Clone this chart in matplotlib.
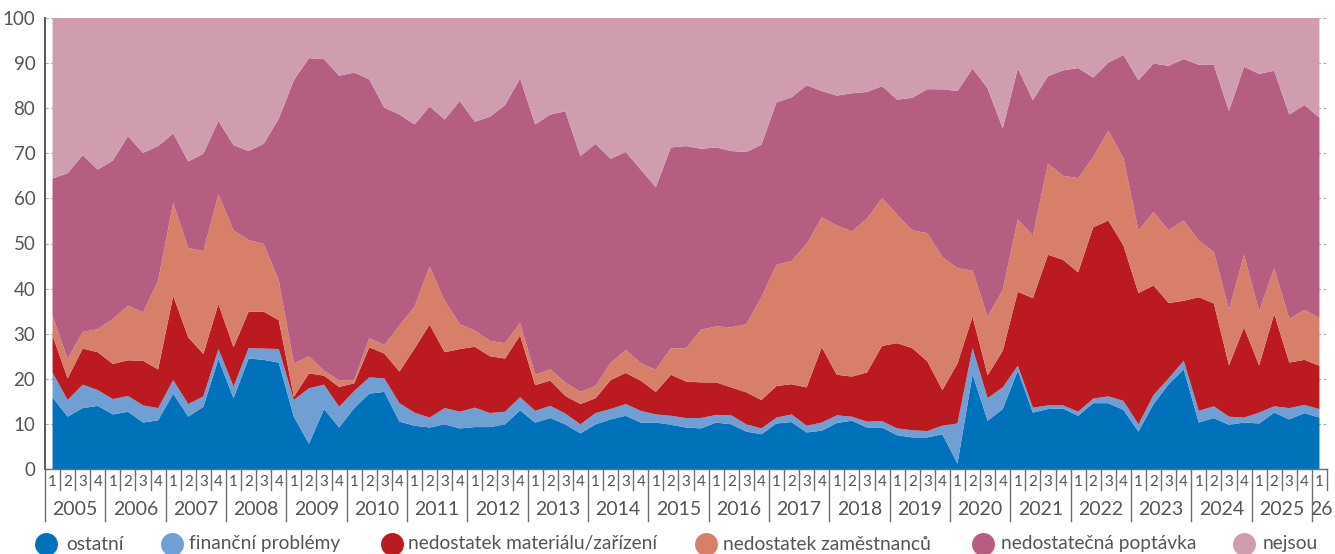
import numpy as np
import matplotlib
matplotlib.use("Agg")
import matplotlib.pyplot as plt
from matplotlib.lines import Line2D
import matplotlib.transforms as mtransforms

plt.rcParams['font.family'] = ['Lato', 'DejaVu Sans']

# quarterly data 2005Q1 .. 2026Q1 (shares in %)
years = list(range(2005, 2026))
year_labels = [str(y) for y in years] + ["26"]
quarters = [1, 2, 3, 4] * 21 + [1]

ostatni = [15.9, 11.6, 13.5, 14.0, 12.1, 12.7, 10.3, 10.8, 16.7, 11.6, 13.8, 24.4, 15.7, 24.5, 24.2, 23.6,
           11.6, 5.6, 13.3, 9.2, 13.5, 16.7, 17.1, 10.5, 9.6, 9.2, 9.9, 9.0, 9.3, 9.3, 9.9, 13.0,
           10.3, 11.3, 9.9, 7.9, 9.9, 11.0, 11.8, 10.3, 10.3, 9.8, 9.2, 9.0, 10.3, 9.9, 8.3, 7.7,
           10.1, 10.4, 8.1, 8.5, 10.2, 10.7, 9.2, 9.2, 7.5, 7.0, 7.0, 7.7, 1.2, 21.0, 10.7, 13.3,
           21.8, 12.5, 13.3, 13.4, 11.8, 14.6, 14.6, 13.1, 8.3, 14.4, 18.8, 22.1, 10.3, 11.3, 9.8, 10.3,
           10.1, 12.5, 11.0, 12.4, 11.4]
financni = [5.5, 3.7, 5.2, 3.5, 3.4, 3.5, 3.8, 2.7, 3.0, 2.8, 2.3, 2.2, 2.6, 2.3, 2.5, 3.0,
            3.7, 12.3, 5.4, 4.6, 3.8, 3.6, 3.0, 4.1, 2.9, 2.2, 3.6, 3.7, 4.3, 3.1, 2.8, 2.9,
            2.6, 2.7, 2.4, 2.0, 2.5, 2.3, 2.6, 2.6, 1.8, 2.0, 2.1, 2.3, 1.7, 2.0, 1.6, 1.3,
            1.3, 1.7, 1.5, 1.8, 1.7, 0.9, 1.3, 1.4, 1.5, 1.6, 1.4, 1.9, 8.9, 5.8, 5.0, 4.8,
            1.1, 1.1, 0.8, 0.7, 0.9, 1.0, 1.5, 2.0, 1.6, 2.0, 1.3, 1.9, 2.6, 2.6, 1.8, 1.1,
            2.4, 1.4, 2.5, 1.8, 1.9]
material = [8.2, 4.8, 8.0, 8.4, 7.8, 7.9, 9.9, 8.6, 18.7, 14.8, 9.4, 10.0, 8.7, 8.1, 8.2, 6.4,
            0.7, 3.3, 2.0, 4.4, 1.7, 6.7, 5.5, 7.0, 14.2, 20.6, 12.4, 13.9, 13.5, 12.6, 11.8, 13.7,
            5.7, 5.6, 3.9, 4.5, 3.3, 6.4, 6.9, 6.7, 5.0, 9.1, 8.1, 7.9, 7.2, 6.2, 7.1, 6.3,
            7.0, 6.7, 8.5, 16.7, 9.0, 8.9, 10.9, 16.7, 18.9, 18.2, 15.5, 7.9, 13.3, 7.0, 5.1, 8.1,
            16.4, 24.3, 33.4, 32.3, 30.9, 38.0, 39.0, 34.5, 29.1, 24.3, 16.7, 13.3, 25.2, 22.8, 11.4, 20.0,
            10.5, 20.5, 10.1, 10.0, 9.6]
zamestnanci = [4.4, 4.3, 3.7, 5.1, 10.0, 12.1, 10.7, 19.7, 20.6, 19.8, 22.8, 24.3, 25.9, 15.9, 15.0, 8.8,
               7.4, 3.8, 1.1, 1.5, 0.7, 2.0, 1.9, 10.2, 9.3, 12.9, 11.4, 5.5, 3.6, 3.4, 3.4, 2.8,
               2.3, 2.5, 3.0, 2.7, 2.7, 3.8, 5.1, 3.9, 4.9, 5.9, 7.3, 11.7, 12.4, 13.3, 15.1, 22.8,
               26.9, 27.3, 31.8, 28.8, 33.1, 32.2, 34.1, 32.8, 28.5, 26.1, 28.4, 29.5, 21.1, 10.2, 13.0, 13.5,
               16.0, 13.9, 20.2, 18.6, 20.9, 15.6, 19.9, 19.4, 13.9, 16.3, 16.1, 17.8, 12.6, 11.4, 12.3, 16.1,
               12.0, 10.1, 9.7, 11.1, 10.6]
poptavka = [30.4, 41.2, 39.2, 35.4, 35.1, 37.6, 35.4, 29.8, 15.4, 19.2, 21.6, 16.3, 18.9, 19.7, 22.2, 35.9,
            62.8, 66.1, 69.1, 67.5, 68.2, 57.4, 52.6, 46.8, 40.4, 35.5, 40.2, 49.5, 46.3, 49.7, 52.8, 54.2,
            55.5, 56.5, 60.1, 52.3, 53.7, 45.3, 43.9, 42.9, 40.5, 44.5, 44.9, 40.1, 39.7, 39.1, 38.2, 33.8,
            36.0, 36.3, 35.2, 28.0, 28.8, 30.6, 28.1, 24.8, 25.5, 29.4, 31.9, 37.2, 39.3, 44.8, 50.6, 35.8,
            33.5, 30.0, 19.4, 23.4, 24.4, 17.6, 15.1, 22.8, 33.3, 32.9, 36.5, 35.8, 38.9, 41.5, 44.1, 41.7,
            52.6, 43.8, 45.3, 45.4, 44.4]
nejsou = [35.6, 34.4, 30.4, 33.6, 31.6, 26.2, 29.9, 28.4, 25.6, 31.8, 30.1, 22.8, 28.2, 29.5, 27.9, 22.3,
          13.8, 8.9, 9.1, 12.8, 12.1, 13.6, 19.9, 21.4, 23.6, 19.6, 22.5, 18.4, 23.0, 21.9, 19.3, 13.4,
          23.6, 21.4, 20.7, 30.6, 27.9, 31.2, 29.7, 33.6, 37.5, 28.7, 28.4, 29.0, 28.7, 29.5, 29.7, 28.1,
          18.7, 17.6, 14.9, 16.2, 17.2, 16.7, 16.4, 15.1, 18.1, 17.7, 15.8, 15.8, 16.2, 11.2, 15.6, 24.5,
          11.2, 18.2, 12.9, 11.6, 11.1, 13.2, 9.9, 8.2, 13.8, 10.1, 10.6, 9.1, 10.4, 10.4, 20.6, 10.8,
          12.4, 11.7, 21.4, 19.3, 22.1]

series_names = ["ostatní", "finanční problémy", "nedostatek materiálu/zařízení",
                "nedostatek zaměstnanců", "nedostatečná poptávka", "nejsou"]
colors = ["#0071bb", "#6f9fd3", "#bc1a21", "#d87f69", "#b55e81", "#d09daf"]

text_col = "#555555"
line_col = "#6d6d6d"

x = np.arange(len(quarters))

fig = plt.figure(figsize=(13.35, 5.54), dpi=100)
ax = fig.add_axes([45 / 1335, 85 / 554, 1282 / 1335, 451 / 554])

ax.stackplot(x, ostatni, financni, material, zamestnanci, poptavka, nejsou,
             colors=colors, linewidth=0, zorder=2)

ax.set_xlim(-0.5, len(x) - 0.5)
ax.set_ylim(0, 100)
ax.set_yticks(range(0, 101, 10))
ax.grid(axis='y', linestyle=(0, (3, 2)), color='#b0b0b0', linewidth=0.8, zorder=1)
ax.set_axisbelow(True)
ax.tick_params(axis='y', length=0, labelsize=13.5, labelcolor=text_col, pad=7)
ax.set_xticks([])

for s in ['top', 'right']:
    ax.spines[s].set_visible(False)
ax.spines['left'].set_color('#4a4a4a')
ax.spines['left'].set_linewidth(1.3)
ax.spines['bottom'].set_color(line_col)
ax.spines['bottom'].set_linewidth(1.0)

# category axis: quarters and years
trans = mtransforms.blended_transform_factory(ax.transData, ax.transAxes)
for i, q in enumerate(quarters):
    ax.text(i, -0.029, str(q), transform=trans, ha='center', va='center',
            fontsize=11, color=text_col)
for k in range(len(x) + 1):
    xs = k - 0.5
    if k % 4 == 0 and k < len(x):
        y_end = -0.115
    else:
        y_end = -0.047
    ax.plot([xs, xs], [0, y_end], transform=trans, color=line_col,
            linewidth=1.0, clip_on=False)
for j, lab in enumerate(year_labels):
    if j < len(years):
        xc = 4 * j + 1.5
    else:
        xc = 4 * j + 0.1
    ax.text(xc, -0.089, lab, transform=trans, ha='center', va='center',
            fontsize=14, color=text_col)

# legend
legend_circles = [46, 172, 392, 706, 983, 1244]
legend_texts = [66, 189, 408, 723, 1001, 1263]
ly = (554 - 544) / 554
for name, c, cx, tx in zip(series_names, colors, legend_circles, legend_texts):
    fig.add_artist(Line2D([cx / 1335], [ly], marker='o', markersize=15.5,
                          markerfacecolor=c, markeredgecolor=c,
                          linestyle='none', transform=fig.transFigure))
    fig.text(tx / 1335, ly, name, ha='left', va='center', fontsize=13.8, color=text_col)

fig.savefig("out.png", dpi=100)
